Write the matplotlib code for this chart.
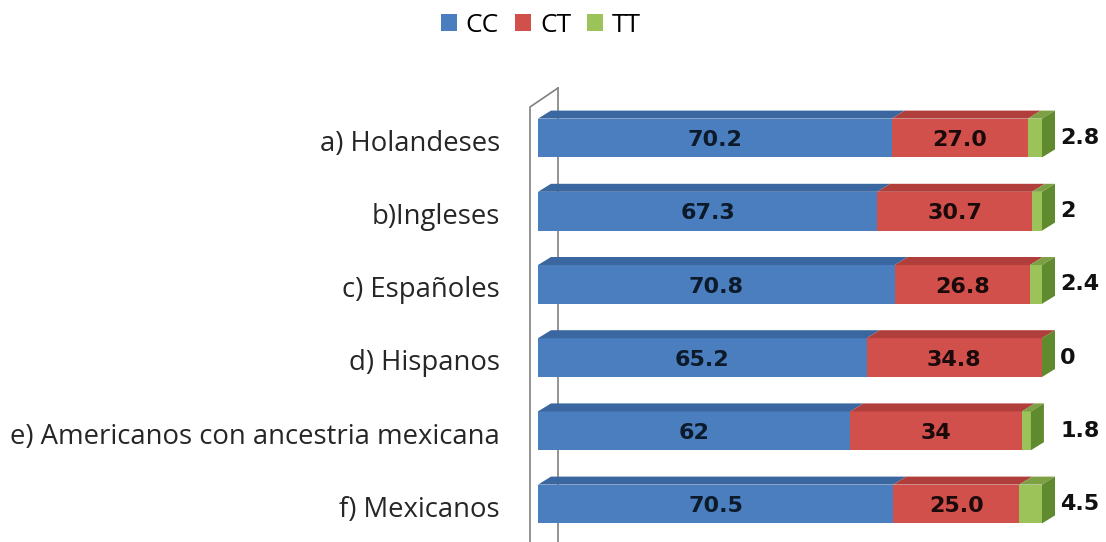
import matplotlib
matplotlib.use("Agg")
import matplotlib.pyplot as plt
from matplotlib.patches import Polygon, Patch

categories = [
    "a) Holandeses",
    "b)Ingleses",
    "c) Españoles",
    "d) Hispanos",
    "e) Americanos con ancestria mexicana",
    "f) Mexicanos",
]
cc = [70.2, 67.3, 70.8, 65.2, 62, 70.5]
ct = [27.0, 30.7, 26.8, 34.8, 34, 25.0]
tt = [2.8, 2, 2.4, 0, 1.8, 4.5]
cc_labels = ["70.2", "67.3", "70.8", "65.2", "62", "70.5"]
ct_labels = ["27.0", "30.7", "26.8", "34.8", "34", "25.0"]
tt_labels = ["2.8", "2", "2.4", "0", "1.8", "4.5"]

front = {"CC": "#4a7ebf", "CT": "#d2504c", "TT": "#9cc35a"}
top = {"CC": "#3a679f", "CT": "#b03f3c", "TT": "#7ea044"}
side_tt = "#5f8a2e"

W, H = 1106, 542
fig = plt.figure(figsize=(W / 100, H / 100), dpi=100)
x0 = 538
ppu = 5.04  # pixels per percent
ax = fig.add_axes([x0 / W, 0, (W - x0) / W, 1])
ax.set_xlim(0, (W - x0) / ppu)
c0, step = 138, 73.2
ax.set_ylim((H - c0) / step, -c0 / step)
ax.axis("off")

bh = 0.53
dx = 13 / ppu
dy = 8 / step

# wall (left 3D axis)
wx_front = (530 - x0) / ppu
wx_back = (558 - x0) / ppu
wy_front = (107 - c0) / step
wy_back = (88 - c0) / step
ybot = (H - c0) / step
ax.plot([wx_back, wx_back], [wy_back, ybot], color="#808080", lw=1.2, zorder=1, clip_on=False)
ax.plot([wx_front, wx_front, wx_back], [ybot, wy_front, wy_back], color="#808080", lw=1.2, zorder=5, clip_on=False)

for i in range(len(categories)):
    yt = i - bh / 2
    yb = i + bh / 2
    left = 0
    for key, vals in (("CC", cc), ("CT", ct), ("TT", tt)):
        w = vals[i]
        if w > 0:
            ax.add_patch(Polygon([(left, yt), (left + w, yt), (left + w, yb), (left, yb)],
                                 closed=True, facecolor=front[key], edgecolor="none", zorder=3))
            ax.add_patch(Polygon([(left, yt), (left + dx, yt - dy), (left + w + dx, yt - dy), (left + w, yt)],
                                 closed=True, facecolor=top[key], edgecolor="none", zorder=3))
        left += w
    ax.add_patch(Polygon([(left, yt), (left + dx, yt - dy), (left + dx, yb - dy), (left, yb)],
                         closed=True, facecolor=side_tt, edgecolor="none", zorder=3))
    ax.text(cc[i] / 2, i + 0.03, cc_labels[i], ha="center", va="center", fontsize=16,
            fontweight="bold", color="#0d1a2a", zorder=6)
    ax.text(cc[i] + ct[i] / 2, i + 0.03, ct_labels[i], ha="center", va="center", fontsize=16,
            fontweight="bold", color="#1a0a0a", zorder=6)
    ax.text(103.6, i, tt_labels[i], ha="left", va="center", fontsize=16,
            fontweight="bold", color="#111111", zorder=6)
    ax.text((500 - x0) / ppu, i + 0.08, categories[i], ha="right", va="center", fontsize=19.8,
            family="Open Sans", color="#262626", clip_on=False)

handles = [Patch(facecolor=front[k], edgecolor="none", label=k) for k in ("CC", "CT", "TT")]
fig.legend(handles=handles, loc="upper center", bbox_to_anchor=(0.489, 1.02), ncol=3,
           frameon=False, prop={"family": "Open Sans", "size": 19}, handlelength=0.6,
           handleheight=0.6, handletextpad=0.35, columnspacing=0.6)

fig.savefig("out.png", dpi=100, facecolor="white")
